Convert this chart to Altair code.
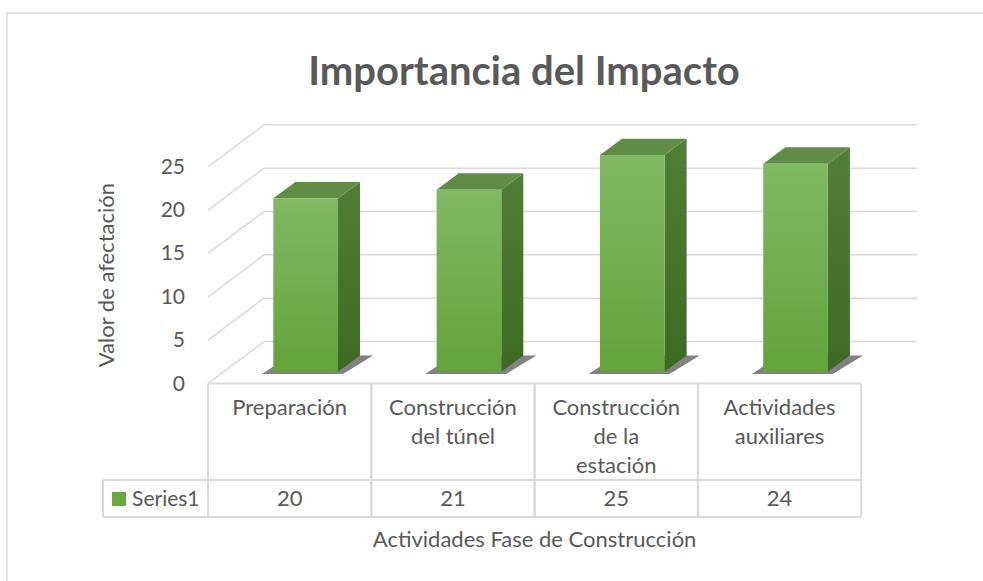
import altair as alt
import pandas as pd

# ---------------- data ----------------
categories = ["Preparación", "Construcción del túnel",
              "Construcción de la estación", "Actividades auxiliares"]
category_labels = ["Preparación", "Construcción\ndel túnel",
                   "Construcción\nde la\nestación", "Actividades\nauxiliares"]
values = [20, 21, 25, 24]
y_ticks = [0, 5, 10, 15, 20, 25]
series_name = "Series1"
title_text = "Importancia del Impacto"
y_title = "Valor de afectación"
x_title = "Actividades Fase de Construcción"

# ---------------- layout (pixel <-> data mapping) ----------------
W, H = 983, 581
PX0, PY0 = 208.0, 383.5      # pixel position of data origin (front-left floor corner)
UX, UY = 163.3, 8.67         # pixels per category / per value unit
X_DOMAIN = [(0 - PX0) / UX, (W - PX0) / UX]
Y_DOMAIN = [-(H - PY0) / UY, PY0 / UY]

N = len(categories)
BACK_DX, BACK_DY = 0.343, 4.84    # depth of the 3D box
BAR_X0, BAR_W = 0.40, 0.396       # bar front face inside its category cell
BAR_Y0 = 1.36                      # bar base (depth shift upward)
SDX, SDY = 0.135, 1.88             # bar depth
ROW1 = -11.13                      # table: header row bottom
ROW2 = -15.40                      # table: data row bottom
LEG_X = -0.643                     # left border of legend cell
HDR_Y = -3.63                      # baseline of first header line
VAL_Y = -14.13                     # baseline of value row

GRID = "#d9d9d9"
TXT = "#595959"
FONT = "Lato"

xs = alt.Scale(domain=X_DOMAIN, nice=False, zero=False)
ys = alt.Scale(domain=Y_DOMAIN, nice=False, zero=False)

def X(f):
    return alt.X(f, type="quantitative", scale=xs, axis=None)

def Y(f):
    return alt.Y(f, type="quantitative", scale=ys, axis=None)

bars_df = pd.DataFrame({"idx": list(range(N)), "cat": categories,
                        "label": category_labels, "value": values})
ticks_df = pd.DataFrame({"t": y_ticks})
series_df = pd.DataFrame({"name": [series_name]})

front_grad = alt.Gradient(gradient="linear", x1=0, x2=0, y1=0, y2=1, stops=[
    alt.GradientStop(color="#82b964", offset=0),
    alt.GradientStop(color="#63a33a", offset=1)])
side_grad = alt.Gradient(gradient="linear", x1=0, x2=0, y1=0, y2=1, stops=[
    alt.GradientStop(color="#527f38", offset=0),
    alt.GradientStop(color="#3d6a22", offset=1)])

# ---------------- border ----------------
border_top = alt.Chart(series_df).mark_rule(color=GRID, strokeWidth=1.3).encode(
    x=alt.value(7), x2=alt.value(W), y=alt.value(13))
border_left = alt.Chart(series_df).mark_rule(color=GRID, strokeWidth=1.3).encode(
    x=alt.value(7), y=alt.value(13), y2=alt.value(H))

# ---------------- 3D grid ----------------
back_lines = alt.Chart(ticks_df).transform_calculate(
    gx1=f"{BACK_DX}", gx2=f"{N + BACK_DX}", gy=f"datum.t + {BACK_DY}"
).mark_rule(color=GRID, strokeWidth=1.5).encode(x=X("gx1"), x2=alt.X2("gx2"), y=Y("gy"))

diag_lines = alt.Chart(ticks_df).transform_calculate(
    gx1="0", gx2=f"{BACK_DX}", gy2=f"datum.t + {BACK_DY}"
).mark_rule(color=GRID, strokeWidth=1.5).encode(
    x=X("gx1"), y=Y("t"), x2=alt.X2("gx2"), y2=alt.Y2("gy2"))

# ---------------- bars ----------------
bars = alt.Chart(bars_df).transform_calculate(
    xL=f"datum.idx + {BAR_X0}", xR=f"datum.idx + {BAR_X0 + BAR_W}",
    y0=f"{BAR_Y0}", yt=f"datum.value + {BAR_Y0}")

corners = bars.transform_calculate(corner="[0, 1]").transform_flatten(["corner"])

shadow = corners.transform_calculate(
    shy=f"datum.y0 - 0.25 + datum.corner * {SDY + 0.25}",
    shx=f"datum.xL - 0.07 + datum.corner * {SDX + 0.04}",
    shx2=f"datum.xR + 0.03 + datum.corner * {SDX + 0.05}",
).mark_area(orient="horizontal", color="#2f2f2f", opacity=0.6).encode(
    y=Y("shy"), x=X("shx"), x2=alt.X2("shx2"), detail="cat:N")

side = corners.transform_calculate(
    sx=f"datum.xR + datum.corner * {SDX}",
    sy=f"datum.y0 + datum.corner * {SDY}",
    sy2=f"datum.yt + datum.corner * {SDY}",
).mark_area(orient="vertical", color=side_grad).encode(
    x=X("sx"), y=Y("sy"), y2=alt.Y2("sy2"), detail="cat:N")

top = corners.transform_calculate(
    ty=f"datum.yt + datum.corner * {SDY}",
    tx=f"datum.xL + datum.corner * {SDX}",
    tx2=f"datum.xR + datum.corner * {SDX}",
).mark_area(orient="horizontal", color="#5f8d45").encode(
    y=Y("ty"), x=X("tx"), x2=alt.X2("tx2"), detail="cat:N")

front = bars.mark_rect(color=front_grad).encode(
    x=X("xL"), x2=alt.X2("xR"), y=Y("y0"), y2=alt.Y2("yt"))

# ---------------- y tick labels & titles ----------------
tick_labels = alt.Chart(ticks_df).transform_calculate(zx="0").mark_text(
    align="right", baseline="middle", dx=-23, dy=1, fontSize=21, font=FONT, color=TXT
).encode(x=X("zx"), y=Y("t"), text="t:Q")

y_title_mark = alt.Chart(series_df).transform_calculate(
    tx="-0.6156", ty=f"{(y_ticks[0] + y_ticks[-1]) / 2}"
).mark_text(angle=270, baseline="middle", align="center", fontSize=22, font=FONT,
            color=TXT, text=y_title).encode(x=X("tx"), y=Y("ty"))

x_title_mark = alt.Chart(series_df).transform_calculate(
    tx=f"{N / 2}", ty="-18.86"
).mark_text(align="center", baseline="alphabetic", fontSize=22, font=FONT,
            color=TXT, text=x_title).encode(x=X("tx"), y=Y("ty"))

main_title = alt.Chart(series_df).mark_text(
    align="center", baseline="alphabetic", fontSize=40, fontWeight="bold",
    font=FONT, color=TXT, text=title_text).encode(x=alt.value(524), y=alt.value(85))

# ---------------- data table ----------------
tbl_left = bars.transform_calculate(a="datum.idx", b="0", c=f"{ROW2}").mark_rule(
    color=GRID, strokeWidth=2).encode(x=X("a"), y=Y("b"), y2=alt.Y2("c"))
tbl_right = bars.transform_calculate(a="datum.idx + 1", b="0", c=f"{ROW2}").mark_rule(
    color=GRID, strokeWidth=2).encode(x=X("a"), y=Y("b"), y2=alt.Y2("c"))
tbl_h = bars.transform_calculate(rows=f"[0, {ROW1}, {ROW2}]").transform_flatten(
    ["rows"]).transform_calculate(a="datum.idx", b="datum.idx + 1").mark_rule(
    color=GRID, strokeWidth=2).encode(x=X("a"), x2=alt.X2("b"), y=Y("rows"))
leg_h = alt.Chart(series_df).transform_calculate(rows=f"[{ROW1}, {ROW2}]").transform_flatten(
    ["rows"]).transform_calculate(a=f"{LEG_X}", b="0").mark_rule(
    color=GRID, strokeWidth=2).encode(x=X("a"), x2=alt.X2("b"), y=Y("rows"))
leg_v = alt.Chart(series_df).transform_calculate(a=f"{LEG_X}", b=f"{ROW1}", c=f"{ROW2}").mark_rule(
    color=GRID, strokeWidth=2).encode(x=X("a"), y=Y("b"), y2=alt.Y2("c"))

hdr_text = bars.transform_calculate(cx="datum.idx + 0.5", cy=f"{HDR_Y}").mark_text(
    align="center", baseline="alphabetic", lineBreak="\n", lineHeight=29,
    fontSize=22, font=FONT, color=TXT).encode(x=X("cx"), y=Y("cy"), text="label:N")

val_text = bars.transform_calculate(cx="datum.idx + 0.5", cy=f"{VAL_Y}").mark_text(
    align="center", baseline="alphabetic", fontSize=22, font=FONT, color=TXT
).encode(x=X("cx"), y=Y("cy"), text="value:Q")

leg_square = alt.Chart(series_df).transform_calculate(lx="-0.545", ly="-13.32").mark_point(
    shape="square", filled=True, size=196, color="#6aab3e", opacity=1).encode(
    x=X("lx"), y=Y("ly"))
leg_text = alt.Chart(series_df).transform_calculate(lx="-0.465", ly=f"{VAL_Y}").mark_text(
    align="left", baseline="alphabetic", fontSize=21, font=FONT, color=TXT).encode(
    x=X("lx"), y=Y("ly"), text="name:N")

chart = alt.layer(
    border_top, border_left, back_lines, diag_lines,
    shadow, side, top, front,
    tick_labels, y_title_mark, x_title_mark, main_title,
    tbl_left, tbl_right, tbl_h, leg_h, leg_v,
    hdr_text, val_text, leg_square, leg_text,
).properties(
    width=W, height=H, padding=0, background="white",
    autosize=alt.AutoSizeParams(type="none"),
).configure_view(stroke=None)

chart.save("out.html", embed_options={"renderer": "svg", "actions": False})
